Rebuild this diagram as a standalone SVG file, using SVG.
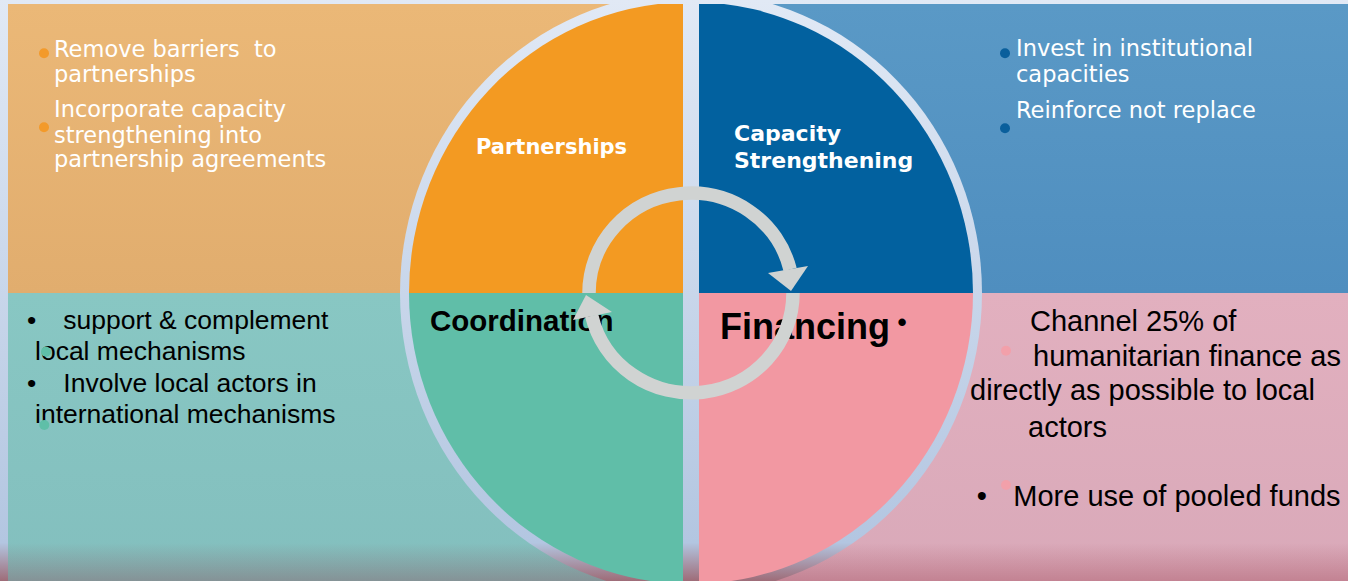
<svg xmlns="http://www.w3.org/2000/svg" width="1348" height="581" viewBox="0 0 1348 581">
<style>
.wt{font-family:"DejaVu Sans",Verdana,sans-serif;font-size:22.5px;fill:#ffffff}
.hd{font-family:"DejaVu Sans",Verdana,sans-serif;font-weight:bold;fill:#ffffff}
.bl{font-family:"Liberation Sans",Arial,sans-serif;fill:#000000}
.bb{font-family:"Liberation Sans",Arial,sans-serif;font-weight:bold;fill:#000000}
.arc{fill:none;stroke:#d0d3d2;stroke-width:13.5}
.head{fill:#d0d3d2}
</style>
<defs>
<linearGradient id="bg" gradientUnits="userSpaceOnUse" x1="0" y1="0" x2="0" y2="581">
<stop offset="0" stop-color="#e1e9f5"/>
<stop offset="0.934" stop-color="#b3c6e1"/>
<stop offset="1" stop-color="#9e6c78"/>
</linearGradient>
<linearGradient id="gTL" x1="0" y1="0" x2="0" y2="1">
<stop offset="0" stop-color="#ebb877"/><stop offset="1" stop-color="#e1ad6e"/>
</linearGradient>
<linearGradient id="gTR" x1="0" y1="0" x2="0" y2="1">
<stop offset="0" stop-color="#5a99c6"/><stop offset="1" stop-color="#4f8ebf"/>
</linearGradient>
<linearGradient id="gBL" x1="0" y1="0" x2="0" y2="1">
<stop offset="0" stop-color="#88c7c3"/><stop offset="1" stop-color="#83bfbe"/>
</linearGradient>
<linearGradient id="gBR" x1="0" y1="0" x2="0" y2="1">
<stop offset="0" stop-color="#e2b0bf"/><stop offset="1" stop-color="#d9a9b9"/>
</linearGradient>
<linearGradient id="shade" gradientUnits="userSpaceOnUse" x1="0" y1="543" x2="0" y2="581">
<stop offset="0" stop-color="#8a2030" stop-opacity="0"/>
<stop offset="1" stop-color="#8a2030" stop-opacity="0.28"/>
</linearGradient>
<clipPath id="top4"><rect x="0" y="4" width="1348" height="577"/></clipPath>
</defs>

<g id="background">
<rect x="0" y="0" width="1348" height="581" fill="url(#bg)"/>
</g>

<g id="panels">
<rect x="8" y="4" width="675" height="289" fill="url(#gTL)"/>
<rect x="699" y="4" width="649" height="289" fill="url(#gTR)"/>
<rect x="8" y="293" width="675" height="288" fill="url(#gBL)"/>
<rect x="699" y="293" width="649" height="288" fill="url(#gBR)"/>
<rect x="8" y="543" width="675" height="38" fill="url(#shade)"/>
<rect x="699" y="543" width="649" height="38" fill="url(#shade)"/>
</g>

<g id="ring">
<ellipse cx="691" cy="293" rx="291" ry="301" fill="url(#bg)"/>
</g>

<g id="node-partnerships" clip-path="url(#top4)">
<path d="M683 293 H409 A282 291 0 0 1 683 2.12 Z" fill="#f39a22"/>
<text class="hd" x="476" y="154" font-size="21">Partnerships</text>
</g>

<g id="node-capacity" clip-path="url(#top4)">
<path d="M699 293 H973 A282 291 0 0 0 699 2.12 Z" fill="#02619f"/>
<text class="hd" font-size="22"><tspan x="734" y="141">Capacity</tspan><tspan x="734" y="168">Strengthening</tspan></text>
</g>

<g id="node-coordination">
<path d="M683 293 H409 A282 291 0 0 0 683 583.88 Z" fill="#60bea8"/>
<text class="bb" x="430" y="330.5" font-size="29.5">Coordination</text>
</g>

<g id="node-financing">
<path d="M699 293 H973 A282 291 0 0 1 699 583.88 Z" fill="#f298a2"/>
<text class="bb" x="720" y="339" font-size="36">Financing</text>
<text class="bb" x="897.5" y="330.5" font-size="26">•</text>
</g>

<g id="text-partnerships">
<circle cx="44" cy="53.3" r="5" fill="#f39a2a"/>
<circle cx="44" cy="127.3" r="5" fill="#f39a2a"/>
<text class="wt" xml:space="preserve"><tspan x="54" y="57">Remove barriers  to</tspan><tspan x="54" y="82">partnerships</tspan><tspan x="54" y="117">Incorporate capacity</tspan><tspan x="54" y="142.5">strengthening into</tspan><tspan x="54" y="167">partnership agreements</tspan></text>
</g>

<g id="text-capacity">
<circle cx="1005" cy="53.3" r="5" fill="#0a5f9c"/>
<circle cx="1005" cy="128.3" r="5" fill="#0a5f9c"/>
<text class="wt"><tspan x="1016" y="56">Invest in institutional</tspan><tspan x="1016" y="82">capacities</tspan><tspan x="1016" y="117.5">Reinforce not replace</tspan></text>
</g>

<g id="text-coordination">
<text class="bl" font-size="26.5"><tspan x="27" y="328.5">•</tspan><tspan x="63.3" y="328.5">support &amp; complement</tspan><tspan x="35" y="360">local mechanisms</tspan><tspan x="27" y="391.7">•</tspan><tspan x="63.3" y="391.7">Involve local actors in</tspan><tspan x="35" y="423.3">international mechanisms</tspan></text>
<circle cx="46" cy="351.7" r="5" fill="#5fbfa8"/>
<circle cx="44.3" cy="425" r="5" fill="#5fbfa8"/>
</g>

<g id="text-financing">
<text class="bl" font-size="29"><tspan x="1030" y="330.7">Channel 25% of</tspan><tspan x="1033" y="366">humanitarian finance as</tspan><tspan x="970" y="400">directly as possible to local</tspan><tspan x="1028" y="436.5">actors</tspan><tspan x="976.7" y="506">•</tspan><tspan x="1013.3" y="506">More use of pooled funds</tspan></text>
<circle cx="1006" cy="350.7" r="5" fill="#f2a0aa"/>
<circle cx="1006" cy="485" r="5" fill="#f2a0aa"/>
</g>

<g id="connectors">
<path class="arc" d="M589 293 A102 100 0 0 1 790.1 269.5"/>
<polygon class="head" points="768,273 808,266 791,291"/>
<path class="arc" d="M793 293 A102 100 0 0 1 591.7 315.7"/>
<polygon class="head" points="573,320 612,312 586,295"/>
</g>
</svg>
